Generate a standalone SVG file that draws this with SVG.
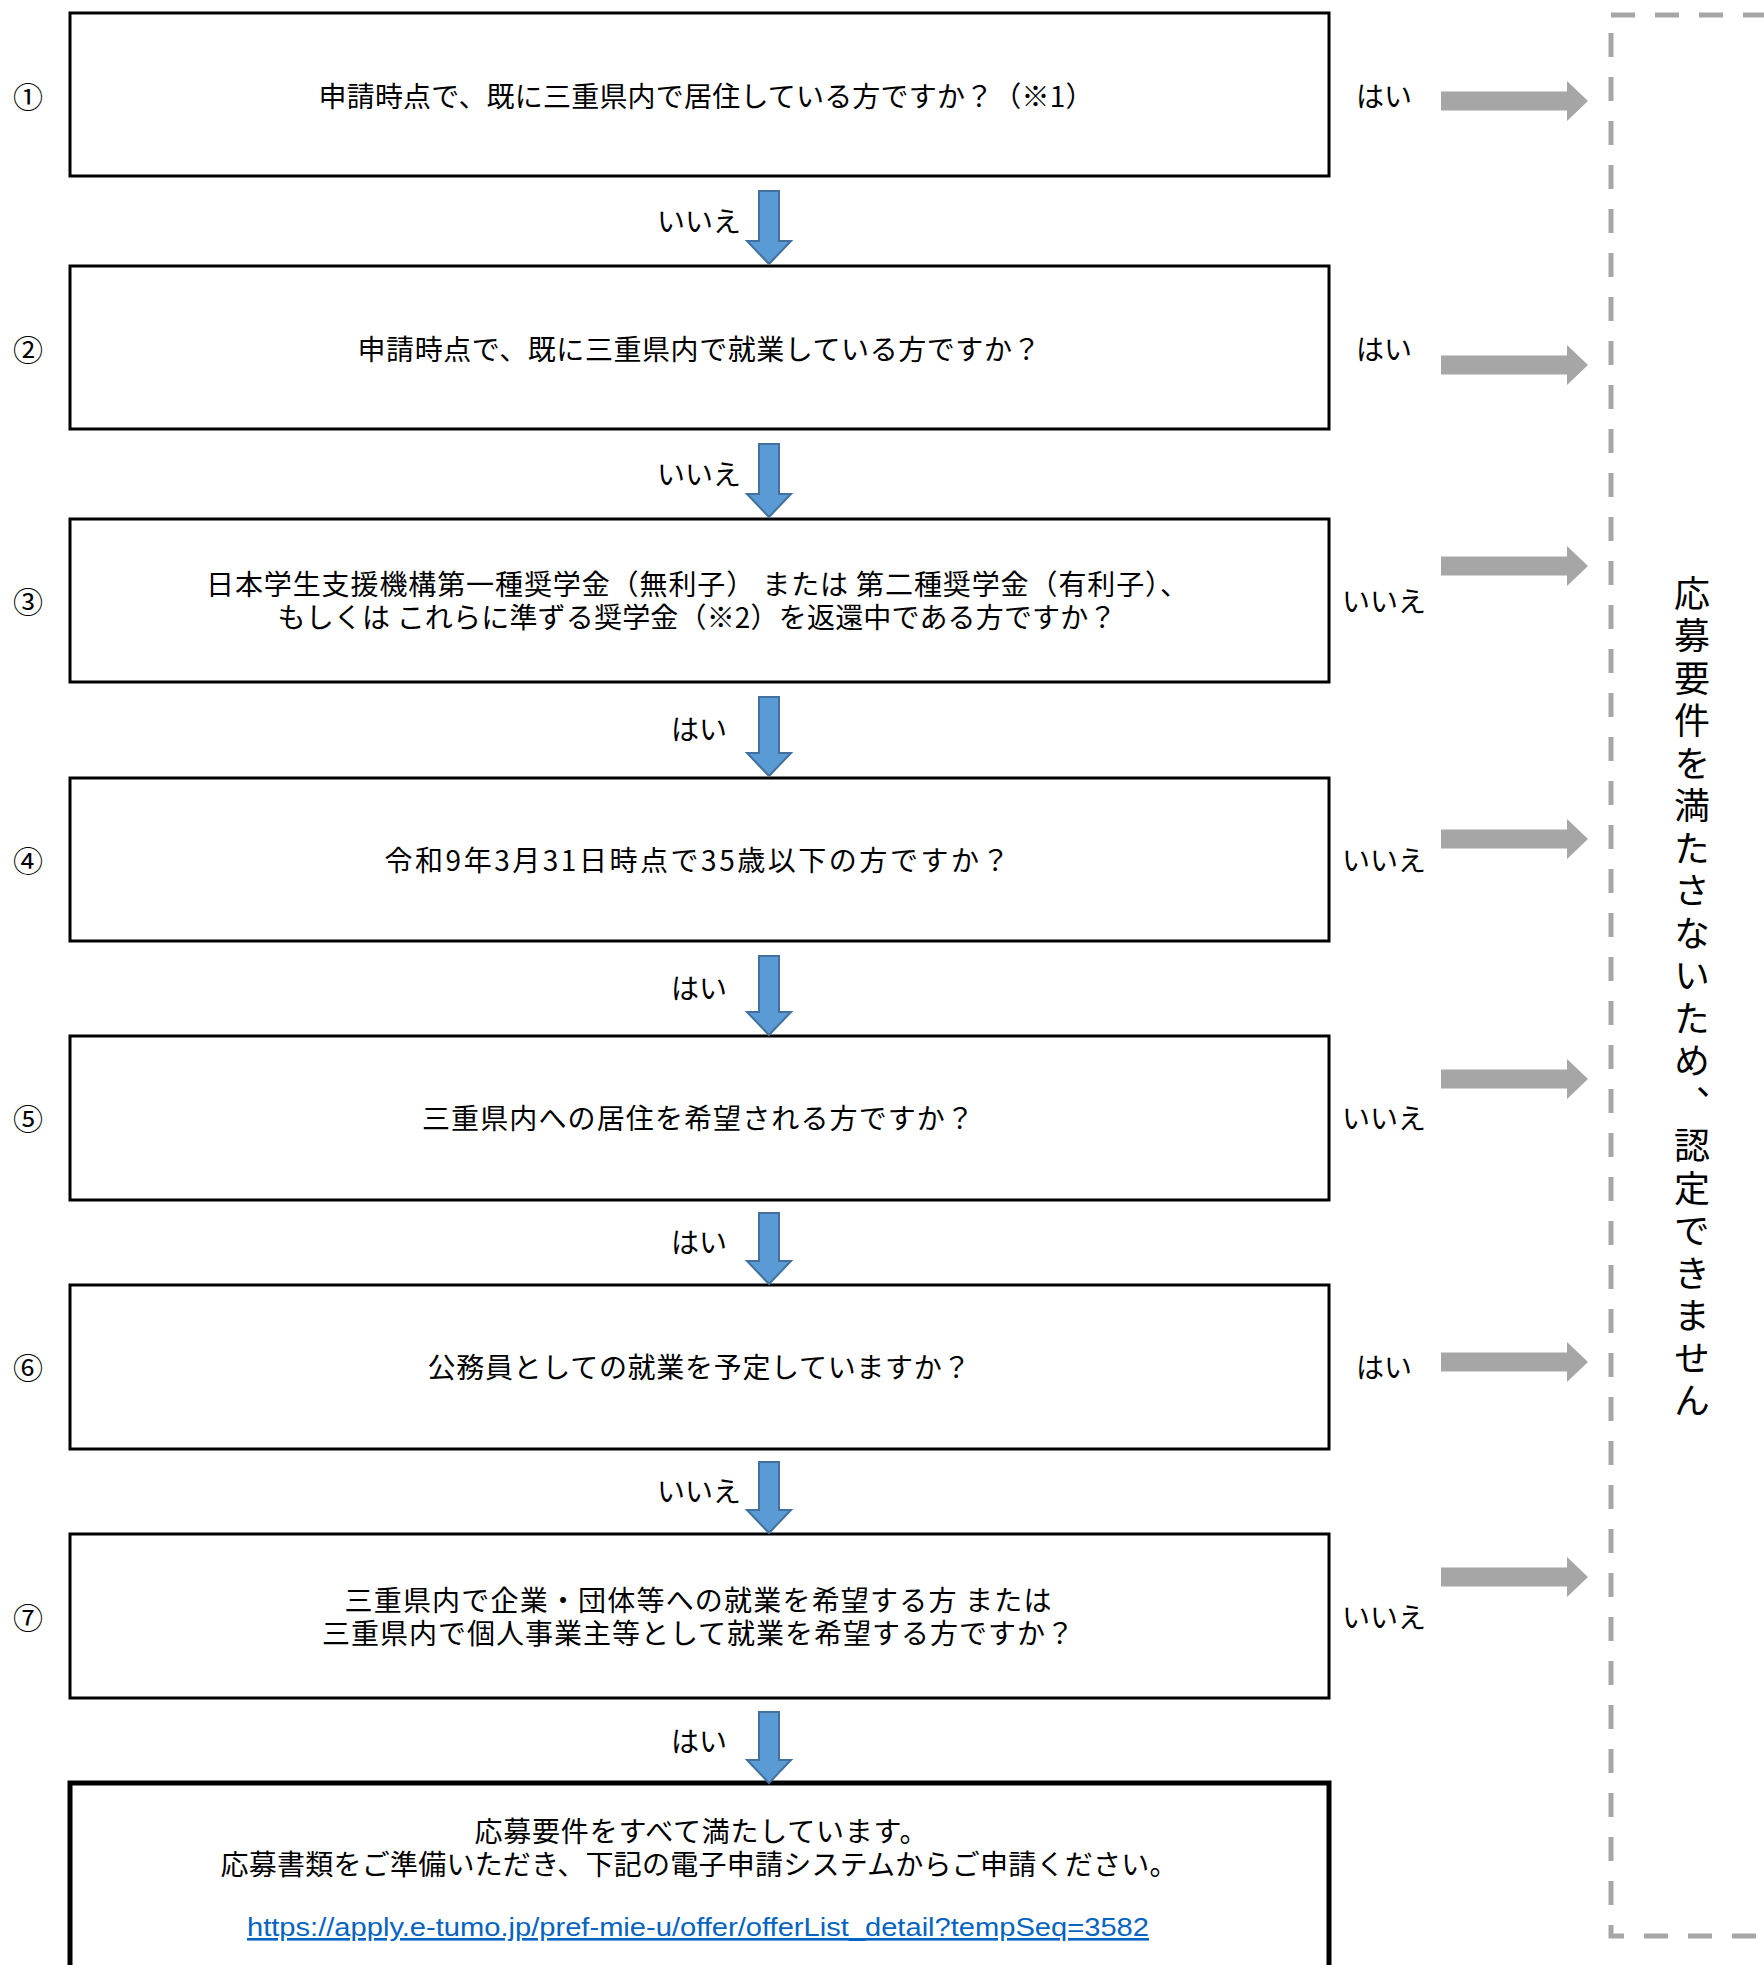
<svg xmlns="http://www.w3.org/2000/svg" xmlns:xlink="http://www.w3.org/1999/xlink" width="1764" height="1965" viewBox="0 0 1764 1965">
<style>
.box{fill:#fff;stroke:#000;stroke-width:3}
.final{fill:#fff;stroke:#000;stroke-width:5}
.t{font-family:"Noto Sans CJK JP","Noto Sans CJK SC",sans-serif;font-size:28px;fill:#000;text-anchor:middle;dominant-baseline:central}
.num{font-family:"Noto Sans CJK JP",sans-serif;font-size:30px;fill:#000;text-anchor:middle;dominant-baseline:central}
.lbl{font-family:"Noto Sans CJK JP",sans-serif;font-size:28px;fill:#000;text-anchor:middle;dominant-baseline:central}
.down{fill:#5B9BD5;stroke:#41719C;stroke-width:2}
.gray{fill:#A6A6A6}
.link{font-family:"Liberation Sans",Arial,sans-serif;font-size:26px;fill:#0563C1;text-anchor:middle;text-decoration:underline}
.vert{font-family:"Noto Sans CJK JP",sans-serif;font-size:36px;fill:#000;writing-mode:vertical-rl;letter-spacing:6.5px}
</style>
<defs>
<polygon id="ga" points="1441,-9.5 1567,-9.5 1567,-20 1588,0 1567,20 1567,9.5 1441,9.5"/>
</defs>
<rect width="1764" height="1965" fill="#fff"/>

<g id="reject-frame">
<rect x="1611" y="15" width="300" height="1921" fill="none" stroke="#A6A6A6" stroke-width="5" stroke-dasharray="24,20"/>
<text class="vert" x="1692" y="575">応募要件を満たさないため、認定できません</text>
</g>

<g id="q1">
<rect class="box" x="70" y="13" width="1259" height="163"/>
<text class="num" x="28" y="95">①</text>
<text class="t" x="706" y="95" textLength="775" lengthAdjust="spacing">申請時点で、既に三重県内で居住している方ですか？（※1）</text>
</g>
<g id="q2">
<rect class="box" x="70" y="266" width="1259" height="163"/>
<text class="num" x="28" y="348">②</text>
<text class="t" x="699" y="348" textLength="683" lengthAdjust="spacing">申請時点で、既に三重県内で就業している方ですか？</text>
</g>
<g id="q3">
<rect class="box" x="70" y="519" width="1259" height="163"/>
<text class="num" x="28" y="600">③</text>
<text class="t" x="697" y="583" textLength="982" lengthAdjust="spacing">日本学生支援機構第一種奨学金（無利子） または 第二種奨学金（有利子）、</text>
<text class="t" x="697" y="616" textLength="839" lengthAdjust="spacing">もしくは これらに準ずる奨学金（※2）を返還中である方ですか？</text>
</g>
<g id="q4">
<rect class="box" x="70" y="778" width="1259" height="163"/>
<text class="num" x="28" y="859">④</text>
<text class="t" x="697" y="859" textLength="625" lengthAdjust="spacing">令和9年3月31日時点で35歳以下の方ですか？</text>
</g>
<g id="q5">
<rect class="box" x="70" y="1036" width="1259" height="164"/>
<text class="num" x="28" y="1117">⑤</text>
<text class="t" x="698" y="1117" textLength="552" lengthAdjust="spacing">三重県内への居住を希望される方ですか？</text>
</g>
<g id="q6">
<rect class="box" x="70" y="1285" width="1259" height="164"/>
<text class="num" x="28" y="1366">⑥</text>
<text class="t" x="699" y="1366" textLength="543" lengthAdjust="spacing">公務員としての就業を予定していますか？</text>
</g>
<g id="q7">
<rect class="box" x="70" y="1534" width="1259" height="164"/>
<text class="num" x="28" y="1616">⑦</text>
<text class="t" x="698" y="1599" textLength="707" lengthAdjust="spacing">三重県内で企業・団体等への就業を希望する方 または</text>
<text class="t" x="698" y="1632" textLength="752" lengthAdjust="spacing">三重県内で個人事業主等として就業を希望する方ですか？</text>
</g>
<g id="result">
<rect class="final" x="70" y="1783" width="1259" height="220"/>
<text class="t" x="701" y="1830" textLength="453" lengthAdjust="spacing">応募要件をすべて満たしています。</text>
<text class="t" x="699" y="1863" textLength="957" lengthAdjust="spacing">応募書類をご準備いただき、下記の電子申請システムからご申請ください。</text>
<text class="link" x="698" y="1936" textLength="902" lengthAdjust="spacingAndGlyphs">https://apply.e-tumo.jp/pref-mie-u/offer/offerList_detail?tempSeq=3582</text>
</g>

<g id="connectors">
<polygon class="down" points="759,191 779,191 779,241 791,241 769,264 747,241 759,241"/>
<polygon class="down" points="759,444 779,444 779,494 791,494 769,517 747,494 759,494"/>
<polygon class="down" points="759,697 779,697 779,753 791,753 769,776 747,753 759,753"/>
<polygon class="down" points="759,956 779,956 779,1012 791,1012 769,1035 747,1012 759,1012"/>
<polygon class="down" points="759,1213 779,1213 779,1261 791,1261 769,1284 747,1261 759,1261"/>
<polygon class="down" points="759,1462 779,1462 779,1510 791,1510 769,1533 747,1510 759,1510"/>
<polygon class="down" points="759,1712 779,1712 779,1760 791,1760 769,1783 747,1760 759,1760"/>
<text class="lbl" x="699" y="220">いいえ</text>
<text class="lbl" x="699" y="473">いいえ</text>
<text class="lbl" x="699" y="728">はい</text>
<text class="lbl" x="699" y="987">はい</text>
<text class="lbl" x="699" y="1241">はい</text>
<text class="lbl" x="699" y="1490">いいえ</text>
<text class="lbl" x="699" y="1740">はい</text>

<use class="gray" xlink:href="#ga" href="#ga" transform="translate(0,101)"/>
<use class="gray" xlink:href="#ga" href="#ga" transform="translate(0,365)"/>
<use class="gray" xlink:href="#ga" href="#ga" transform="translate(0,566)"/>
<use class="gray" xlink:href="#ga" href="#ga" transform="translate(0,839)"/>
<use class="gray" xlink:href="#ga" href="#ga" transform="translate(0,1079)"/>
<use class="gray" xlink:href="#ga" href="#ga" transform="translate(0,1362)"/>
<use class="gray" xlink:href="#ga" href="#ga" transform="translate(0,1577)"/>
<text class="lbl" x="1384" y="95">はい</text>
<text class="lbl" x="1384" y="348">はい</text>
<text class="lbl" x="1384" y="600">いいえ</text>
<text class="lbl" x="1384" y="859">いいえ</text>
<text class="lbl" x="1384" y="1117">いいえ</text>
<text class="lbl" x="1384" y="1366">はい</text>
<text class="lbl" x="1384" y="1616">いいえ</text>
</g>
</svg>
